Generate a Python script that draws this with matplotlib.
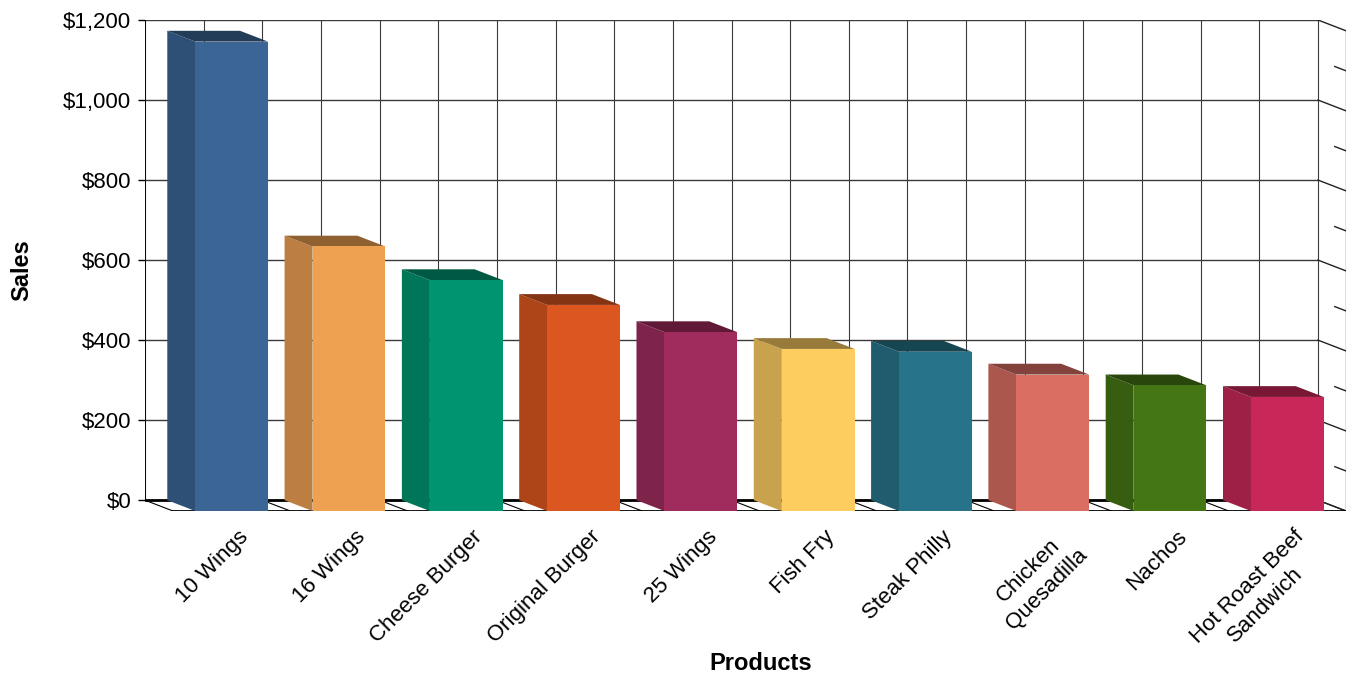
import numpy as np
import matplotlib.pyplot as plt
from matplotlib.patches import Polygon

plt.rcParams['font.family'] = ['Liberation Sans', 'DejaVu Sans']

# data
products = ['10 Wings', '16 Wings', 'Cheese Burger', 'Original Burger', '25 Wings',
            'Fish Fry', 'Steak Philly', 'Chicken\nQuesadilla', 'Nachos',
            'Hot Roast Beef\nSandwich']
sales = [1173, 661, 577, 515, 447, 405, 398, 341, 314, 285]
y_ticks = [0, 200, 400, 600, 800, 1000, 1200]
y_tick_labels = ['$0', '$200', '$400', '$600', '$800', '$1,000', '$1,200']

bar_colors = ['#3A6595', '#EFA152', '#009570', '#DC5720', '#A02C5E',
              '#FDCD60', '#27748A', '#DA6E62', '#447614', '#C82859']

# fake 3d depth (x in category units, y in dollars)
DX = 0.2387
DY = -27
W = 0.62
n = len(products)
ymax = y_ticks[-1]


def shade(c, f):
    r, g, b = [int(c[i:i + 2], 16) / 255 for i in (1, 3, 5)]
    return (r * f, g * f, b * f)


fig = plt.figure(figsize=(13.52, 6.77), dpi=100)
ax = fig.add_axes([145 / 1352, 166 / 677, 1201 / 1352, 491 / 677])
ax.set_xlim(0, n + DX)
ax.set_ylim(DY, ymax)
for s in ax.spines.values():
    s.set_visible(False)

grid_c = '#3a3a3a'

# back wall grid
for yv in y_ticks:
    ax.plot([0, n], [yv, yv], color=grid_c, lw=1.0, zorder=1)
for xv in np.arange(0, n + 0.01, 0.5):
    ax.plot([xv, xv], [0, ymax], color=grid_c, lw=0.8, zorder=1)
    # floor lines
    ax.plot([xv, xv + DX], [0, DY], color='black', lw=0.8, zorder=1)

# wall bottom and floor front edge
ax.plot([0, n], [0, 0], color='black', lw=2, zorder=2)
ax.plot([DX, n + DX], [DY, DY], color='black', lw=2, zorder=2)

# right side wall
ax.plot([n + DX, n + DX], [DY, ymax + DY], color='#666666', lw=1, zorder=1)
for yv in y_ticks:
    ax.plot([n, n + DX], [yv, yv + DY], color='#222222', lw=1, zorder=1)
for yv in np.array(y_ticks[:-1]) + 100:
    ax.plot([n + DX * 0.6, n + DX], [yv + DY * 0.6, yv + DY], color='#222222', lw=1, zorder=1)

# left axis
ax.plot([0, 0], [0, ymax], color='black', lw=1.2, zorder=2)

# bars
x = np.arange(n) + 0.5
for xi, v, c in zip(x, sales, bar_colors):
    l, r = xi - W / 2, xi + W / 2
    side = Polygon([(l, 0), (l, v), (l + DX, v + DY), (l + DX, DY)],
                   closed=True, facecolor=shade(c, 0.79), edgecolor='none', zorder=3)
    top = Polygon([(l, v), (r, v), (r + DX, v + DY), (l + DX, v + DY)],
                  closed=True, facecolor=shade(c, 0.6), edgecolor='none', zorder=3)
    ax.add_patch(side)
    ax.add_patch(top)
ax.bar(x + DX, sales, width=W, bottom=DY, color=bar_colors, zorder=4)

# ticks
ax.set_yticks(y_ticks, y_tick_labels)
ax.tick_params(axis='y', length=5, width=1, pad=5, labelsize=16, colors='black')
ax.set_xticks(x + 0.29, products)
ax.tick_params(axis='x', length=0, pad=11, labelsize=16)
for lab in ax.get_xticklabels():
    lab.set_rotation(45)
    lab.set_ha('right')
    lab.set_va('top')
    lab.set_rotation_mode('anchor')
    lab.set_multialignment('center')
    lab.set_linespacing(1.3)

ax.text(-0.1024, 0.491, 'Sales', transform=ax.transAxes, rotation=90,
        ha='center', va='center', fontsize=17, fontweight='bold')
fig.text(761 / 1352, (677 - 663) / 677, 'Products', ha='center', va='center',
         fontsize=17, fontweight='bold')

fig.savefig('out.png', dpi=100)
